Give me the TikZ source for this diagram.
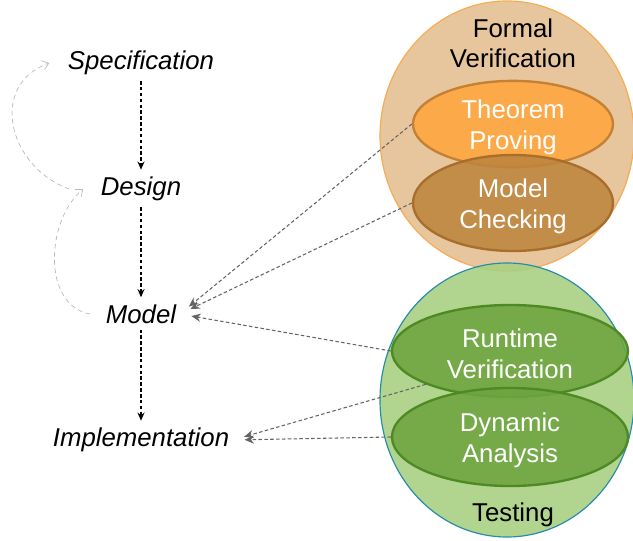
\documentclass[tikz,border=0pt]{standalone}
\usepackage{fontspec}
\setmainfont{Liberation Sans}
\usetikzlibrary{shapes.geometric, arrows.meta}
\definecolor{fvfill}{RGB}{231,198,158}
\definecolor{fvline}{RGB}{246,172,82}
\definecolor{tpfill}{RGB}{255,166,62}
\definecolor{tpline}{RGB}{196,128,52}
\definecolor{mcfill}{RGB}{190,132,62}
\definecolor{mcline}{RGB}{168,110,44}
\definecolor{tsfill}{RGB}{168,208,130}
\definecolor{tsline}{RGB}{38,140,170}
\definecolor{rvfill}{RGB}{110,165,64}
\definecolor{rvline}{RGB}{78,138,36}
\definecolor{linkgray}{RGB}{100,100,100}
\definecolor{backgray}{RGB}{185,185,185}
\newcommand{\topstrut}{\rule{0pt}{21pt}}
\tikzset{
  phase/.style={font=\fontsize{22}{26}\selectfont\itshape, inner sep=3pt},
  bigarea/.style={ellipse, line width=1pt, inner sep=0pt},
  method/.style={ellipse, line width=2pt, inner sep=0pt, align=center,
    text=white, fill opacity=0.88, text opacity=1,
    font=\fontsize{22}{26.5}\selectfont},
  areatitle/.style={align=center, font=\fontsize{22}{25.5}\selectfont},
  flowarrow/.style={-{Stealth[length=7pt,width=6pt]}, line width=1.1pt,
    dash pattern=on 3pt off 2pt, black, shorten <=2pt, shorten >=3pt},
  linkarrow/.style={-{Stealth[length=8pt,width=7pt]}, line width=0.9pt,
    dash pattern=on 3pt off 2pt, color=linkgray, shorten >=10pt},
  backarrow/.style={-{Straight Barb[length=5pt,width=8pt]}, semithick,
    dash pattern=on 4pt off 3pt, color=backgray}
}
\begin{document}
\begin{tikzpicture}[x=0.03cm, y=-0.03cm]
  \useasboundingbox (0,0) rectangle (633,541);
  \node[bigarea, draw=fvline, fill=fvfill, minimum width=7.62cm, minimum height=8.1cm] (fv) at (507,136) {};
  \node[bigarea, draw=tsline, fill=tsfill, fill opacity=0.9, minimum width=7.62cm, minimum height=8.22cm] (ts) at (507,400) {};
  \node[areatitle] (fvtitle) at (513,43) {Formal\\Verification};
  \node[areatitle] (tstitle) at (513,515) {Testing};

  \node[method, draw=tpline, fill=tpfill, minimum width=6cm, minimum height=2.46cm] (tp) at (513,124) {\topstrut Theorem\\Proving};
  \node[method, draw=mcline, fill=mcfill, minimum width=6cm, minimum height=2.88cm] (mc) at (513,203) {\topstrut Model\\Checking};
  \node[method, draw=rvline, fill=rvfill, minimum width=7.08cm, minimum height=2.76cm] (rv) at (510,351) {\topstrut Runtime\\Verification};
  \node[method, draw=rvline, fill=rvfill, minimum width=7.08cm, minimum height=2.94cm] (da) at (510,437) {\topstrut Dynamic\\Analysis};

  \node[phase] (spec) at (141,63) {Specification};
  \node[phase] (design) at (141,189) {Design};
  \node[phase] (model) at (141,314) {Model};
  \node[phase] (impl) at (141,440) {Implementation};

  \draw[flowarrow] (spec) -- (design);
  \draw[flowarrow] (design) -- (model);
  \draw[flowarrow] (model) -- (impl);

  \draw[backarrow] ([xshift=-0.84cm]design.west) to[out=160, in=200, looseness=1.3] ([xshift=-0.45cm]spec.west);
  \draw[backarrow] ([xshift=-0.36cm]model.west) to[out=170, in=220] ([xshift=-0.42cm]design.west);

  \draw[linkarrow] (tp.west) -- (model.east);
  \draw[linkarrow] (mc.west) -- (model.east);
  \draw[linkarrow] (rv.west) -- (model.east);
  \draw[linkarrow] (rv.south west) -- (impl.east);
  \draw[linkarrow] (da.west) -- (impl.east);
\end{tikzpicture}
\end{document}
